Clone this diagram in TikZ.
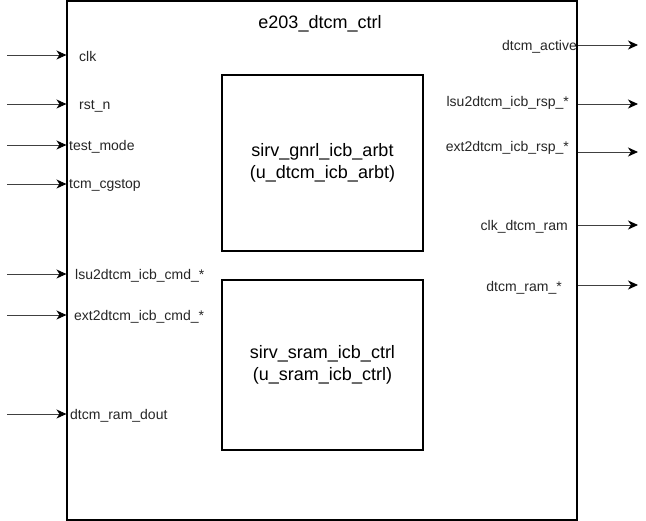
\documentclass[tikz,border=0pt]{standalone}
\usepackage{fontspec}
\setmainfont{Liberation Sans}
\usetikzlibrary{arrows.meta,calc}
\begin{document}
\begin{tikzpicture}[x=1pt,y=-1pt,
  blockbox/.style={draw=black,line width=1.1pt,inner sep=0pt,fill=white},
  subbox/.style={draw=black,line width=1.1pt,inner sep=0pt,align=center,font=\fontsize{18}{22}\selectfont},
  sig/.style={draw=black!75,line width=0.9pt,-{Stealth[length=10pt,width=9pt,inset=3pt,fill=black,color=black]}},
  lbl/.style={inner sep=0pt,font=\fontsize{14}{16}\selectfont,text=black!85}]
\useasboundingbox (0,0) rectangle (646,521);
\fill[white] (0,0) rectangle (646,521);
% outer block
\node[blockbox,minimum width=510pt,minimum height=519pt] (top) at (322,260.5) {};
\node[inner sep=0pt,font=\fontsize{18}{22}\selectfont] (title) at (320,24) {e203\_dtcm\_ctrl};
% inner blocks
\node[subbox,minimum width=201pt,minimum height=176pt] (arbt) at (322.5,163) {sirv\_gnrl\_icb\_arbt\\(u\_dtcm\_icb\_arbt)};
\node[subbox,minimum width=201pt,minimum height=170pt] (sram) at (322.5,365) {sirv\_sram\_icb\_ctrl\\(u\_sram\_icb\_ctrl)};
% left inputs
\coordinate (iclk) at (7,55);
\coordinate (irst) at (7,104);
\coordinate (itest) at (7,145);
\coordinate (icg) at (7,184);
\coordinate (ilsu) at (7,274);
\coordinate (iext) at (7,315);
\coordinate (idout) at (7,414);
\foreach \c in {iclk,irst,itest,icg,ilsu,iext,idout}
  \draw[sig] (\c) -- (\c -| top.west);
\node[lbl,anchor=west] (lclk) at (79,56.5) {clk};
\node[lbl,anchor=west] (lrst) at (79,106.5) {rst\_n};
\node[lbl,anchor=west] (ltest) at (69,146.5) {test\_mode};
\node[lbl,anchor=west] (lcg) at (69,185.5) {tcm\_cgstop};
\node[lbl,anchor=west] (llsu) at (75,275.5) {lsu2dtcm\_icb\_cmd\_*};
\node[lbl,anchor=west] (lext) at (74,316.5) {ext2dtcm\_icb\_cmd\_*};
\node[lbl,anchor=west] (ldout) at (70,416) {dtcm\_ram\_dout};
% right outputs
\coordinate (oact) at (638,45);
\coordinate (olsu) at (638,104);
\coordinate (oext) at (638,152);
\coordinate (oclk) at (638,225);
\coordinate (oram) at (638,285);
\foreach \c in {oact,olsu,oext,oclk,oram}
  \draw[sig] (\c -| top.east) -- (\c);
\node[lbl,anchor=east] (ract) at (577,46.5) {dtcm\_active};
\node[lbl,anchor=east] (rlsu) at (569,102.5) {lsu2dtcm\_icb\_rsp\_*};
\node[lbl,anchor=east] (rext) at (569,147.5) {ext2dtcm\_icb\_rsp\_*};
\node[lbl,anchor=east] (rclk) at (568,226.5) {clk\_dtcm\_ram};
\node[lbl,anchor=east] (rram) at (562,287.5) {dtcm\_ram\_*};
\end{tikzpicture}
\end{document}
